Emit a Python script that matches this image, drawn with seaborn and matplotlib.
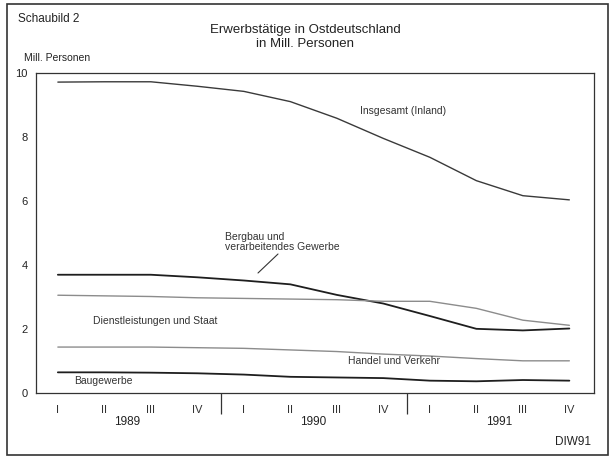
import numpy as np
import pandas as pd
import matplotlib
matplotlib.use("Agg")
import matplotlib.pyplot as plt
import matplotlib.transforms as mtransforms
from matplotlib.patches import Rectangle
import seaborn as sns

#DATA
quarters = ['I', 'II', 'III', 'IV'] * 3
years = ['1989', '1990', '1991']
insgesamt = [9.70, 9.71, 9.71, 9.57, 9.41, 9.09, 8.57, 7.94, 7.35, 6.62, 6.15, 6.02]
bergbau = [3.68, 3.68, 3.68, 3.60, 3.50, 3.38, 3.05, 2.78, 2.39, 1.99, 1.94, 2.00]
dienst = [3.04, 3.02, 3.00, 2.96, 2.94, 2.92, 2.90, 2.85, 2.85, 2.63, 2.26, 2.10]
handel = [1.42, 1.42, 1.42, 1.40, 1.38, 1.33, 1.28, 1.20, 1.14, 1.06, 0.99, 0.99]
bau = [0.63, 0.63, 0.62, 0.60, 0.56, 0.49, 0.47, 0.45, 0.37, 0.35, 0.39, 0.37]

series = {
    'Insgesamt (Inland)': insgesamt,
    'Bergbau': bergbau,
    'Dienstleistungen und Staat': dienst,
    'Handel und Verkehr': handel,
    'Baugewerbe': bau,
}
rows = []
for name, vals in series.items():
    for i, v in enumerate(vals):
        rows.append({'t': i, 'wert': v, 'reihe': name})
df = pd.DataFrame(rows)

sns.set_style("white")
plt.rcParams['font.family'] = ['Liberation Sans', 'DejaVu Sans']

fig = plt.figure(figsize=(6.13, 4.64), dpi=100)
ax = fig.add_axes([36/613, 1-393.5/464, (594-36)/613, 320/464])

pal = {'Insgesamt (Inland)': '#3a3a3a', 'Bergbau': '#1e1e1e',
       'Dienstleistungen und Staat': '#8c8c8c', 'Handel und Verkehr': '#8c8c8c',
       'Baugewerbe': '#1e1e1e'}
widths = {'Insgesamt (Inland)': 1.0, 'Bergbau': 1.3, 'Dienstleistungen und Staat': 1.0,
          'Handel und Verkehr': 1.0, 'Baugewerbe': 1.3}
for name in series:
    sns.lineplot(data=df[df['reihe'] == name], x='t', y='wert', color=pal[name],
                 linewidth=widths[name], ax=ax, legend=False)

ax.set_xlim(-0.47, 11.53)
ax.set_ylim(0, 10)
ax.set_xticks(range(12))
ax.set_xticklabels(quarters, fontsize=8, color='#333333')
ax.set_yticks([0, 2, 4, 6, 8, 10])
ax.set_yticklabels(['0', '2', '4', '6', '8', '10'], fontsize=8, color='#222222')
ax.tick_params(axis='both', direction='out', length=4, width=0.8, color='#444444', pad=2)
ax.tick_params(axis='x', pad=4)
ax.set_xlabel('')
ax.set_ylabel('')
for s in ax.spines.values():
    s.set_color('#333333')
    s.set_linewidth(0.9)

# year separators and labels
trans = mtransforms.blended_transform_factory(ax.transData, ax.transAxes)
ax.vlines([3.5, 7.5], -0.068, 0, transform=trans, color='#333333', linewidth=0.9, clip_on=False)
for j, y in enumerate(years):
    ax.text(1.5 + 4*j, -0.09, y, transform=trans, ha='center', va='center', fontsize=8.5, color='#222222')

# series labels
fig.text(360/613, 1-111/464, 'Insgesamt (Inland)', fontsize=7.5, color='#333333', va='center')
fig.text(225/613, 1-242/464, 'Bergbau und\nverarbeitendes Gewerbe', fontsize=7.5,
         color='#333333', va='center', linespacing=1.05)
fig.add_artist(plt.Line2D([278/613, 258/613], [1-255/464, 1-274/464], color='#333333', linewidth=0.8))
fig.text(93/613, 1-321/464, 'Dienstleistungen und Staat', fontsize=7.5, color='#333333', va='center')
fig.text(348/613, 1-361/464, 'Handel und Verkehr', fontsize=7.5, color='#333333', va='center')
fig.text(74/613, 1-381/464, 'Baugewerbe', fontsize=7.5, color='#333333', va='center')

# titles and frame
fig.text(18/613, 1-19/464, 'Schaubild 2', fontsize=8.5, color='#222222', va='center')
fig.text(305/613, 1-37/464, 'Erwerbstätige in Ostdeutschland\nin Mill. Personen', fontsize=9.5,
         color='#222222', ha='center', va='center', linespacing=1.15)
fig.text(24/613, 1-58/464, 'Mill. Personen', fontsize=7.5, color='#222222', va='center')
fig.text(555/613, 1-442/464, 'DIW91', fontsize=8.5, color='#222222', va='center')
fig.add_artist(Rectangle((7/613, 1-456/464), 601/613, 451/464, fill=False,
                         edgecolor='#333333', linewidth=1.2, transform=fig.transFigure))

fig.savefig('out.png', dpi=100)
